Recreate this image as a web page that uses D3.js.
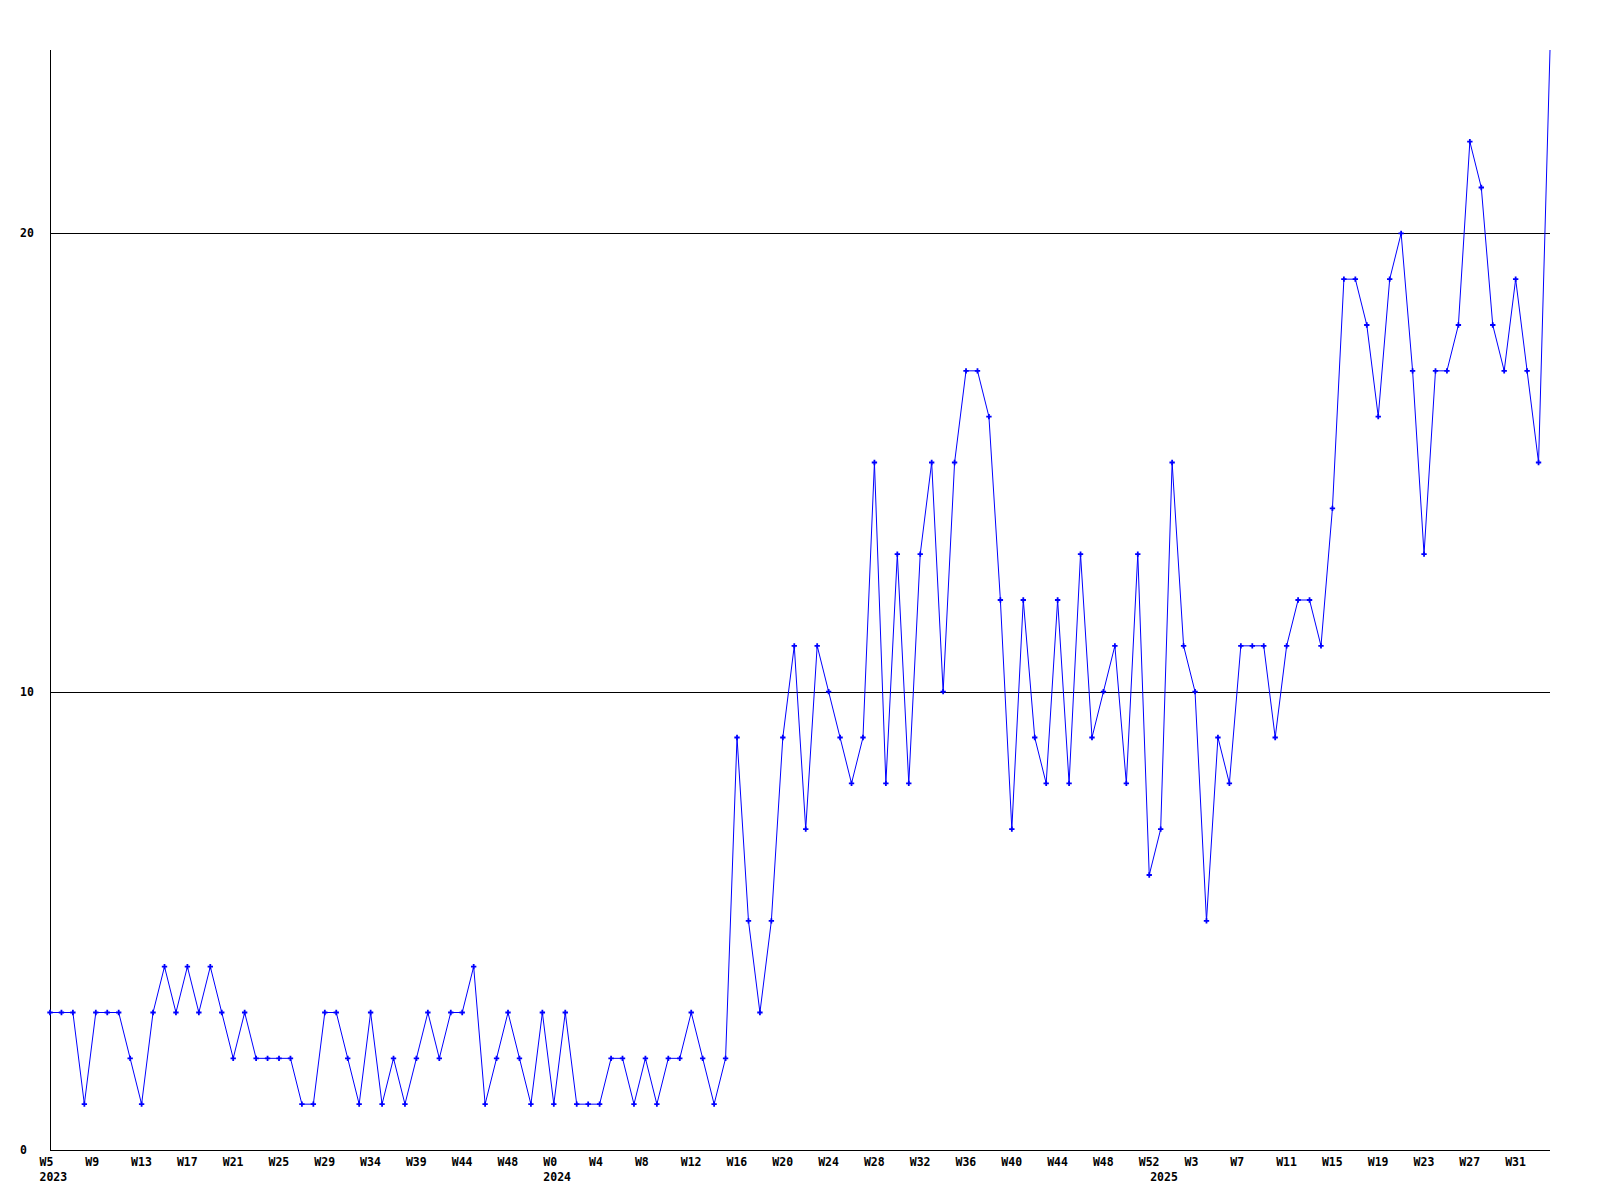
<!DOCTYPE html>
<html>
<head>
<meta charset="utf-8">
<script src="https://cdn.jsdelivr.net/npm/d3@7/dist/d3.min.js"></script>
<style>
  html, body { margin: 0; padding: 0; background: #fff; }
  svg { display: block; }
  text { font-family: "DejaVu Sans Mono", monospace; font-weight: bold; font-size: 11.5px; fill: #000; }
</style>
</head>
<body>
<script>
// Weekly values, 2023 W5 onward
const values = [
  3, 3, 3, 1, 3, 3, 3, 2, 1, 3,
  4, 3, 4, 3, 4, 3, 2, 3, 2, 2,
  2, 2, 1, 1, 3, 3, 2, 1, 3, 1,
  2, 1, 2, 3, 2, 3, 3, 4, 1, 2,
  3, 2, 1, 3, 1, 3, 1, 1, 1, 2,
  2, 1, 2, 1, 2, 2, 3, 2, 1, 2,
  9, 5, 3, 5, 9, 11, 7, 11, 10, 9,
  8, 9, 15, 8, 13, 8, 13, 15, 10, 15,
  17, 17, 16, 12, 7, 12, 9, 8, 12, 8,
  13, 9, 10, 11, 8, 13, 6, 7, 15, 11,
  10, 5, 9, 8, 11, 11, 11, 9, 11, 12,
  12, 11, 14, 19, 19, 18, 16, 19, 20, 17,
  13, 17, 17, 18, 22, 21, 18, 17, 19, 17,
  15, 24
];

// Week tick labels (one every 4 points)
const weekLabels = [
  "W5", "W9", "W13", "W17", "W21", "W25", "W29", "W34", "W39", "W44", "W48",
  "W0", "W4", "W8", "W12", "W16", "W20", "W24", "W28", "W32", "W36", "W40", "W44", "W48", "W52",
  "W3", "W7", "W11", "W15", "W19", "W23", "W27", "W31"
];
const weekLabelStep = 4;

// Year labels and the point index where each year starts
const yearLabels = ["2023", "2024", "2025"];
const yearIndex = [0, 44, 97];

// Y-axis tick values
const yTicks = [0, 10, 20];
const yMax = 24;

(function () {
  const W = 1600, H = 1200;
  const mLeft = 50, mRight = 1550, mTop = 50, mBottom = 1150;

  const svg = d3.select("body").append("svg")
    .attr("width", W).attr("height", H);

  svg.append("defs").append("clipPath").attr("id", "plotclip")
    .append("rect")
    .attr("x", mLeft - 6).attr("y", mTop)
    .attr("width", mRight - mLeft + 7).attr("height", mBottom - mTop + 1);

  const x = d3.scaleLinear().domain([0, values.length - 1]).range([mLeft, mRight]);
  const y = d3.scaleLinear().domain([0, yMax]).range([mBottom, mTop]);

  // Horizontal grid lines (excluding 0, which is the axis)
  svg.append("g").selectAll("line")
    .data(yTicks.filter(d => d > 0))
    .join("line")
    .attr("x1", mLeft).attr("x2", mRight)
    .attr("y1", d => Math.round(y(d)) + 0.5)
    .attr("y2", d => Math.round(y(d)) + 0.5)
    .attr("stroke", "#000").attr("stroke-width", 1);

  // Axis lines
  svg.append("line")
    .attr("x1", mLeft + 0.5).attr("x2", mLeft + 0.5)
    .attr("y1", mTop).attr("y2", mBottom + 0.5)
    .attr("stroke", "#000");
  svg.append("line")
    .attr("x1", mLeft).attr("x2", mRight)
    .attr("y1", mBottom + 0.5).attr("y2", mBottom + 0.5)
    .attr("stroke", "#000");

  // Y tick labels
  svg.append("g").selectAll("text")
    .data(yTicks)
    .join("text")
    .attr("x", 20)
    .attr("y", d => y(d))
    .attr("dy", "0.35em")
    .text(d => d);

  // Week labels
  svg.append("g").selectAll("text")
    .data(weekLabels)
    .join("text")
    .attr("x", (d, i) => x(i * weekLabelStep) - 10.5)
    .attr("y", 1166)
    .text(d => d);

  // Year labels
  svg.append("g").selectAll("text")
    .data(yearLabels)
    .join("text")
    .attr("x", (d, i) => x(yearIndex[i]) - 10.5)
    .attr("y", 1181)
    .text(d => d);

  const plot = svg.append("g").attr("clip-path", "url(#plotclip)");

  // Line
  const line = d3.line()
    .x((d, i) => x(i))
    .y(d => y(d));

  plot.append("path")
    .datum(values)
    .attr("d", line)
    .attr("fill", "none")
    .attr("stroke", "#0000ff")
    .attr("stroke-width", 1);

  // Markers (points lying on the top edge of the plot are not marked)
  const pts = values.map((v, i) => ({ v, i })).filter(p => p.v < yMax);
  plot.append("g").selectAll("path")
    .data(pts)
    .join("path")
    .attr("transform", p => `translate(${x(p.i)},${y(p.v)})`)
    .attr("d", d3.symbol(d3.symbolCross, 16)())
    .attr("fill", "#0000ff");
})();
</script>
</body>
</html>
